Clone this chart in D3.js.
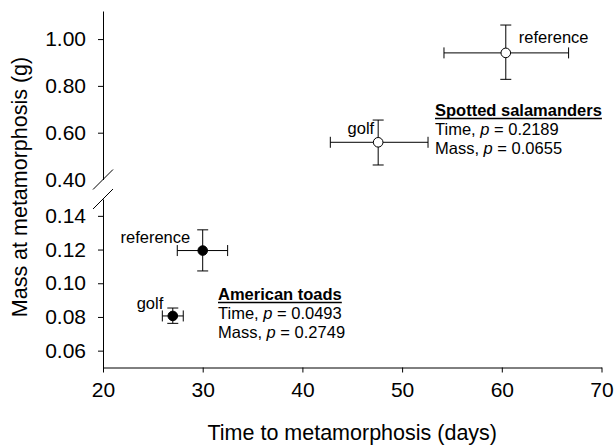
<!DOCTYPE html>
<html lang="en">

<head>
  <meta charset="utf-8">
  <title>Mass vs time to metamorphosis</title>
  <script src="https://d3js.org/d3.v7.min.js"></script>
  <style type="text/css">
    body {
      margin: 0;
      background: white;
    }

    svg text {
      font-family: "Liberation Sans", Arial, sans-serif;
      fill: black;
    }

    .axis path.domain,
    .axis g.tick>line {
      stroke: black;
      stroke-width: 1px;
    }

    .axis text {
      font-size: 21px;
    }

    .axisTitle {
      font-size: 21.5px;
    }

    .note,
    .pointLabel {
      font-size: 16.5px;
    }

    .noteTitle {
      font-weight: bold;
    }
  </style>
</head>

<body>
  <script>

    //Data
    const xTicks = [20, 30, 40, 50, 60, 70];
    const yTicksUpper = [0.40, 0.60, 0.80, 1.00];
    const yTicksLower = [0.06, 0.08, 0.10, 0.12, 0.14];

    const pointSpecies = ["toad", "toad", "salamander", "salamander"];
    const pointLabels = ["reference", "golf", "reference", "golf"];
    const timeMean = [30.0, 27.0, 60.4, 47.6];
    const timeLow = [27.45, 25.95, 54.2, 42.8];
    const timeHigh = [32.5, 28.05, 66.7, 52.6];
    const massMean = [0.1194, 0.0806, 0.941, 0.559];
    const massLow = [0.1073, 0.0762, 0.828, 0.462];
    const massHigh = [0.1317, 0.0853, 1.060, 0.654];

    const noteSpecies = ["American toads", "Spotted salamanders"];
    const pTime = ["0.0493", "0.2189"];
    const pMass = ["0.2749", "0.0655"];

    //Config settings
    const width = 615, height = 445;
    const plot = { left: 103, right: 601.5, top: 11, bottom: 367.5, breakTop: 179.5, breakBottom: 199 };

    const svg = d3.select("body").append("svg")
      .attr("width", width).attr("height", height);

    //scales
    const xScale = d3.scaleLinear().domain([20, 70]).range([plot.left, plot.right]);
    const yUpper = d3.scaleLinear().domain([0.40, 1.12]).range([plot.breakTop, plot.top]);
    const yLower = d3.scaleLinear().domain([0.05, 0.15]).range([plot.bottom, plot.breakBottom]);
    const yPos = v => v >= 0.3 ? yUpper(v) : yLower(v);

    //axes
    svg.append("g").attr("class", "axis")
      .attr("transform", `translate(0,${plot.bottom})`)
      .call(d3.axisBottom(xScale).tickValues(xTicks).tickSize(5).tickSizeOuter(0).tickPadding(11))
      .call(g => g.selectAll("text").attr("y", 15));

    svg.append("g").attr("class", "axis")
      .attr("transform", `translate(${plot.left},0)`)
      .call(d3.axisLeft(yUpper).tickValues(yTicksUpper).tickFormat(d3.format(".2f"))
        .tickSize(5).tickSizeOuter(0).tickPadding(12))
      .call(g => g.selectAll("g.tick").filter(d => d === 0.40).select("line").remove());

    svg.append("g").attr("class", "axis")
      .attr("transform", `translate(${plot.left},0)`)
      .call(d3.axisLeft(yLower).tickValues(yTicksLower).tickFormat(d3.format(".2f"))
        .tickSize(5).tickSizeOuter(0).tickPadding(12));

    svg.selectAll(".axis text").attr("fill", "black");

    //break marks
    [plot.breakTop, plot.breakBottom].forEach(y => {
      svg.append("line")
        .attr("x1", plot.left - 10).attr("y1", y + 10)
        .attr("x2", plot.left + 10).attr("y2", y - 10)
        .attr("stroke", "black").attr("stroke-width", 1);
    });

    //axis titles
    svg.append("text").attr("class", "axisTitle")
      .attr("text-anchor", "middle")
      .attr("x", (plot.left + plot.right) / 2).attr("y", 440)
      .text("Time to metamorphosis (days)");
    svg.append("text").attr("class", "axisTitle")
      .attr("text-anchor", "middle")
      .attr("transform", "translate(27,187) rotate(-90)")
      .text("Mass at metamorphosis (g)");

    //points with error bars
    const points = timeMean.map((t, i) => ({
      species: pointSpecies[i], label: pointLabels[i],
      x: t, xLo: timeLow[i], xHi: timeHigh[i],
      y: massMean[i], yLo: massLow[i], yHi: massHigh[i]
    }));
    const cap = 5.5;

    const pointGroup = svg.selectAll("g.point").data(points).enter()
      .append("g").attr("class", "point");

    pointGroup.append("path")
      .attr("fill", "none").attr("stroke", "black").attr("stroke-width", 1)
      .attr("d", d => {
        let cx = xScale(d.x), cy = yPos(d.y);
        let x0 = xScale(d.xLo), x1 = xScale(d.xHi);
        let y0 = yPos(d.yLo), y1 = yPos(d.yHi);
        return `M${x0},${cy}H${x1}` +
          `M${x0},${cy - cap}V${cy + cap}M${x1},${cy - cap}V${cy + cap}` +
          `M${cx},${y0}V${y1}` +
          `M${cx - cap},${y0}H${cx + cap}M${cx - cap},${y1}H${cx + cap}`;
      });

    pointGroup.append("circle")
      .attr("cx", d => xScale(d.x)).attr("cy", d => yPos(d.y))
      .attr("r", 4.8)
      .attr("fill", d => d.species === "toad" ? "black" : "white")
      .attr("stroke", "black").attr("stroke-width", 1);

    //point labels: offsets from the marker
    const labelOffset = {
      "toad reference": [-12.5, -8, "end"],
      "toad golf": [-9.5, -6.5, "end"],
      "salamander reference": [13, -9.5, "start"],
      "salamander golf": [-4, -8.5, "end"]
    };
    pointGroup.append("text").attr("class", "pointLabel")
      .each(function (d) {
        let off = labelOffset[`${d.species} ${d.label}`];
        d3.select(this)
          .attr("x", xScale(d.x) + off[0])
          .attr("y", yPos(d.y) + off[1])
          .attr("text-anchor", off[2])
          .text(d.label);
      });

    //statistics notes
    const notePos = [[218, 300], [435, 116]];
    noteSpecies.forEach((name, i) => {
      let [nx, ny] = notePos[i];
      let g = svg.append("g").attr("class", "note")
        .attr("transform", `translate(${nx},${ny})`);
      let title = g.append("text").attr("class", "note noteTitle").text(name);
      let w = title.node().getComputedTextLength();
      g.append("line")
        .attr("x1", 0).attr("x2", w).attr("y1", 2.5).attr("y2", 2.5)
        .attr("stroke", "black").attr("stroke-width", 1.6);
      let t1 = g.append("text").attr("class", "note").attr("y", 19.2);
      t1.append("tspan").text("Time, ");
      t1.append("tspan").style("font-style", "italic").text("p");
      t1.append("tspan").text(` = ${pTime[i]}`);
      let t2 = g.append("text").attr("class", "note").attr("y", 38.2);
      t2.append("tspan").text("Mass, ");
      t2.append("tspan").style("font-style", "italic").text("p");
      t2.append("tspan").text(` = ${pMass[i]}`);
    });

  </script>
</body>

</html>
